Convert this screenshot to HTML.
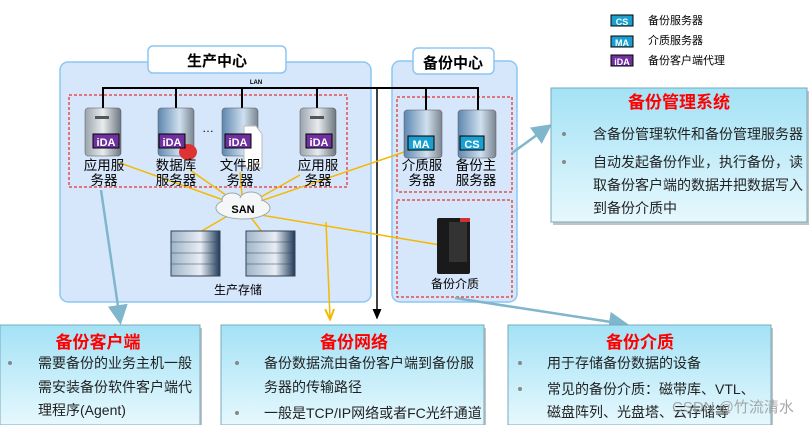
<!DOCTYPE html>
<html><head><meta charset="utf-8"><style>
body{margin:0;width:809px;height:425px;overflow:hidden;background:#fff;font-family:"Liberation Sans","Noto Sans CJK SC",sans-serif}
</style></head><body>
<svg width="809" height="425" viewBox="0 0 809 425" xmlns="http://www.w3.org/2000/svg" font-family="Liberation Sans, Noto Sans CJK SC, sans-serif">
<defs>
<linearGradient id="bx" x1="0" y1="0" x2="0" y2="1"><stop offset="0" stop-color="#a3e2f6"/><stop offset="1" stop-color="#e6f8fd"/></linearGradient>
<linearGradient id="srv" x1="0" y1="0" x2="1" y2="0"><stop offset="0" stop-color="#9aa4ad"/><stop offset=".5" stop-color="#e8ecef"/><stop offset="1" stop-color="#6c7680"/></linearGradient>
<linearGradient id="srvb" x1="0" y1="0" x2="1" y2="0"><stop offset="0" stop-color="#5d86b0"/><stop offset=".6" stop-color="#cfe0ee"/><stop offset="1" stop-color="#7a8690"/></linearGradient>
<linearGradient id="st" x1="0" y1="0" x2="1" y2="0"><stop offset="0" stop-color="#9fb4ca"/><stop offset=".6" stop-color="#e8eef4"/><stop offset="1" stop-color="#203a5a"/></linearGradient>
<marker id="ab" markerWidth="8" markerHeight="8" refX="6" refY="4" orient="auto"><path d="M0,0 L8,4 L0,8 z" fill="#7fb6cc"/></marker>
<marker id="ay" markerWidth="8" markerHeight="8" refX="6" refY="4" orient="auto"><path d="M0,1 L7,4 L0,7" fill="none" stroke="#f5b800" stroke-width="1.3"/></marker>
<marker id="ak" markerWidth="8" markerHeight="8" refX="6" refY="4" orient="auto"><path d="M0,1 L7,4 L0,7 z" fill="#000"/></marker>
</defs>

<!-- legend -->
<rect x="611" y="15" width="22" height="11" fill="#1aa0d0" stroke="#000"/><text x="622" y="25" font-size="9" fill="#fff" font-weight="bold" text-anchor="middle">CS</text>
<text x="648" y="24" font-size="11">备份服务器</text>
<rect x="611" y="36" width="22" height="11" fill="#1aa0d0" stroke="#000"/><text x="622" y="46" font-size="9" fill="#fff" font-weight="bold" text-anchor="middle">MA</text>
<text x="648" y="44" font-size="11">介质服务器</text>
<rect x="611" y="55" width="22" height="11" fill="#7030a0" stroke="#000"/><text x="622" y="65" font-size="9" fill="#fff" font-weight="bold" text-anchor="middle">iDA</text>
<text x="648" y="64" font-size="11">备份客户端代理</text>

<!-- centers -->
<rect x="60" y="62" width="311" height="240" rx="8" fill="#d6e7fb" stroke="#8cc6f2" stroke-width="1.5"/>
<rect x="392" y="61" width="125" height="241" rx="8" fill="#d6e7fb" stroke="#8cc6f2" stroke-width="1.5"/>
<rect x="148" y="46" width="138" height="27" rx="5" fill="#fff" stroke="#8cc6f2" stroke-width="1.5"/>
<text x="217" y="66" font-size="15" font-weight="bold" text-anchor="middle">生产中心</text>
<rect x="413" y="48" width="81" height="26" rx="5" fill="#fff" stroke="#8cc6f2" stroke-width="1.5"/>
<text x="453" y="68" font-size="15" font-weight="bold" text-anchor="middle">备份中心</text>

<rect x="69" y="95" width="278" height="92" fill="none" stroke="#e00" stroke-dasharray="3,2"/>
<rect x="397" y="97" width="115" height="95" fill="none" stroke="#e00" stroke-dasharray="3,2"/>
<rect x="397" y="200" width="115" height="97" fill="none" stroke="#e00" stroke-dasharray="3,2"/>

<!-- LAN -->
<text x="256" y="84" font-size="6" font-weight="bold" text-anchor="middle">LAN</text>
<g stroke="#000" stroke-width="2">
<line x1="102" y1="88" x2="479" y2="88"/>
<line x1="103" y1="88" x2="103" y2="110"/><line x1="176" y1="88" x2="176" y2="110"/><line x1="242" y1="88" x2="242" y2="110"/><line x1="317" y1="88" x2="317" y2="110"/><line x1="426" y1="88" x2="426" y2="110"/><line x1="478" y1="88" x2="478" y2="110"/>
</g>
<line x1="377" y1="88" x2="377" y2="318" stroke="#000" stroke-width="1.5" marker-end="url(#ak)"/>

<!-- yellow -->
<g stroke="#f5b800" stroke-width="1.5" fill="none">
<line x1="243" y1="207" x2="120" y2="163"/><line x1="243" y1="207" x2="190" y2="170"/><line x1="243" y1="207" x2="240" y2="172"/><line x1="243" y1="207" x2="300" y2="175"/><line x1="243" y1="207" x2="410" y2="150"/>
<line x1="243" y1="207" x2="200" y2="232"/><line x1="243" y1="207" x2="262" y2="232"/>
<line x1="243" y1="212" x2="440" y2="245"/>
<line x1="326" y1="222" x2="330" y2="318" marker-end="url(#ay)"/>
</g>

<!-- servers -->
<g font-size="13.5" text-anchor="middle">
<g transform="translate(85,108)"><rect width="36" height="48" rx="3" fill="url(#srv)" stroke="#555" stroke-width=".5"/><rect x="10" y="8" width="14" height="3" fill="#555"/><rect x="8" y="26" width="26" height="14" fill="#7030a0" stroke="#000"/><text x="21" y="38" fill="#fff" font-size="11" font-weight="bold">iDA</text></g>
<text x="104" y="170">应用服</text><text x="104" y="185">务器</text>
<g transform="translate(158,108)"><rect width="36" height="48" rx="3" fill="url(#srvb)" stroke="#555" stroke-width=".5"/><ellipse cx="30" cy="44" rx="9" ry="8" fill="#d33"/><rect x="1" y="26" width="26" height="14" fill="#7030a0" stroke="#000"/><text x="14" y="38" fill="#fff" font-size="11" font-weight="bold">iDA</text></g>
<text x="176" y="170">数据库</text><text x="176" y="185">服务器</text>
<text x="208" y="132" font-size="12">…</text>
<g transform="translate(222,108)"><rect width="36" height="48" rx="3" fill="url(#srvb)" stroke="#555" stroke-width=".5"/><path d="M22,18 L34,18 L40,26 L40,60 L22,60 z" fill="#fff" stroke="#bbb"/><rect x="3" y="26" width="26" height="14" fill="#7030a0" stroke="#000"/><text x="16" y="38" fill="#fff" font-size="11" font-weight="bold">iDA</text></g>
<text x="240" y="170">文件服</text><text x="240" y="185">务器</text>
<g transform="translate(300,108)"><rect width="36" height="48" rx="3" fill="url(#srv)" stroke="#555" stroke-width=".5"/><rect x="10" y="8" width="14" height="3" fill="#555"/><rect x="6" y="26" width="26" height="14" fill="#7030a0" stroke="#000"/><text x="19" y="38" fill="#fff" font-size="11" font-weight="bold">iDA</text></g>
<text x="318" y="170">应用服</text><text x="318" y="185">务器</text>
<g transform="translate(404,110)"><rect width="38" height="48" rx="3" fill="url(#srvb)" stroke="#555" stroke-width=".5"/><rect x="4" y="26" width="26" height="14" fill="#1aa0d0" stroke="#000"/><text x="17" y="38" fill="#fff" font-size="11" font-weight="bold">MA</text></g>
<text x="422" y="170">介质服</text><text x="422" y="185">务器</text>
<g transform="translate(458,110)"><rect width="38" height="48" rx="3" fill="url(#srvb)" stroke="#555" stroke-width=".5"/><rect x="2" y="26" width="24" height="14" fill="#1aa0d0" stroke="#000"/><text x="14" y="38" fill="#fff" font-size="11" font-weight="bold">CS</text></g>
<text x="476" y="170">备份主</text><text x="476" y="185">服务器</text>
</g>

<!-- SAN cloud -->
<g fill="#f4f6f8" stroke="#9aa">
<ellipse cx="243" cy="208" rx="27" ry="11"/><ellipse cx="232" cy="200" rx="10" ry="7"/><ellipse cx="251" cy="199" rx="11" ry="7"/>
</g>
<ellipse cx="243" cy="208" rx="26" ry="10" fill="#f4f6f8"/>
<text x="243" y="213" font-size="11" font-weight="bold" text-anchor="middle">SAN</text>

<!-- storage -->
<g transform="translate(171,231)"><rect width="49" height="45" fill="url(#st)" stroke="#345"/><g stroke="#345" stroke-width=".6"><line x1="0" y1="11" x2="49" y2="11"/><line x1="0" y1="22" x2="49" y2="22"/><line x1="0" y1="33" x2="49" y2="33"/></g></g>
<g transform="translate(246,231)"><rect width="49" height="45" fill="url(#st)" stroke="#345"/><g stroke="#345" stroke-width=".6"><line x1="0" y1="11" x2="49" y2="11"/><line x1="0" y1="22" x2="49" y2="22"/><line x1="0" y1="33" x2="49" y2="33"/></g></g>
<text x="238" y="294" font-size="12" text-anchor="middle">生产存储</text>

<!-- tape -->
<rect x="437" y="218" width="33" height="56" rx="2" fill="#1a1a1a"/><rect x="449" y="222" width="18" height="40" fill="#333"/><rect x="460" y="218" width="10" height="4" fill="#c33"/>
<text x="455" y="288" font-size="12" text-anchor="middle">备份介质</text>

<!-- blue arrows -->
<g stroke="#7fb6cc" stroke-width="2.5" fill="none">
<line x1="101" y1="190" x2="120" y2="320" marker-end="url(#ab)"/>
<line x1="512" y1="153" x2="548" y2="127" marker-end="url(#ab)"/>
<line x1="455" y1="298" x2="624" y2="324" marker-end="url(#ab)"/>
</g>

<!-- management box -->
<rect x="553" y="91" width="256" height="134" fill="#888" opacity=".5"/>
<rect x="551" y="88" width="256" height="134" fill="url(#bx)" stroke="#7ab" />
<text x="679" y="108" font-size="17" font-weight="bold" fill="#f00" text-anchor="middle">备份管理系统</text>
<g font-size="14" fill="#222"><circle cx="564" cy="134" r="2" fill="#888"/><circle cx="564" cy="162" r="2" fill="#888"/>
<text x="593" y="139">含备份管理软件和备份管理服务器</text>
<text x="593" y="167">自动发起备份作业，执行备份，读</text>
<text x="593" y="190">取备份客户端的数据并把数据写入</text>
<text x="593" y="213">到备份介质中</text></g>

<!-- bottom boxes -->
<g>
<rect x="2" y="328" width="200" height="100" fill="#888" opacity=".5"/>
<rect x="0" y="325" width="200" height="100" fill="url(#bx)" stroke="#7ab"/>
<text x="98" y="348" font-size="17" font-weight="bold" fill="#f00" text-anchor="middle">备份客户端</text>
<circle cx="10" cy="363" r="2" fill="#888"/>
<g font-size="14" fill="#222"><text x="38" y="368">需要备份的业务主机一般</text><text x="38" y="392">需安装备份软件客户端代</text><text x="38" y="415">理程序(Agent)</text></g>
<rect x="224" y="328" width="262" height="100" fill="#888" opacity=".5"/>
<rect x="221" y="325" width="263" height="100" fill="url(#bx)" stroke="#7ab"/>
<text x="354" y="348" font-size="17" font-weight="bold" fill="#f00" text-anchor="middle">备份网络</text>
<circle cx="237" cy="363" r="2" fill="#888"/><circle cx="237" cy="413" r="2" fill="#888"/>
<g font-size="14" fill="#222"><text x="264" y="368">备份数据流由备份客户端到备份服</text><text x="264" y="392">务器的传输路径</text><text x="264" y="418">一般是TCP/IP网络或者FC光纤通道</text></g>
<rect x="510" y="328" width="263" height="100" fill="#888" opacity=".5"/>
<rect x="508" y="325" width="263" height="100" fill="url(#bx)" stroke="#7ab"/>
<text x="640" y="348" font-size="17" font-weight="bold" fill="#f00" text-anchor="middle">备份介质</text>
<circle cx="520" cy="363" r="2" fill="#888"/><circle cx="520" cy="389" r="2" fill="#888"/>
<g font-size="14" fill="#222"><text x="547" y="368">用于存储备份数据的设备</text><text x="547" y="394">常见的备份介质：磁带库、VTL、</text><text x="547" y="417">磁盘阵列、光盘塔、云存储等</text></g>
</g>
<text x="672" y="412" font-size="15" fill="#999" opacity=".85">CSDN @竹流清水</text>
</svg>
</body></html>
